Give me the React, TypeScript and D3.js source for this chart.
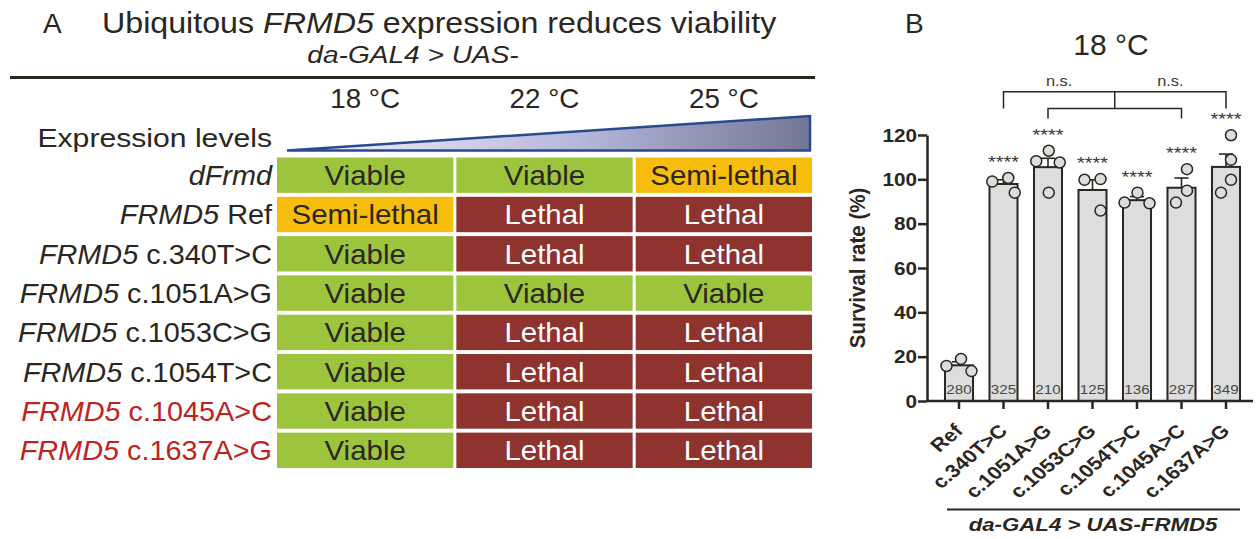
import React, { useRef, useEffect } from 'react';
import * as d3 from 'd3';

// ---- panel A : viability table ----
const temperatures = ['18 °C', '22 °C', '25 °C'];
const lineGenes = ['dFrmd', 'FRMD5', 'FRMD5', 'FRMD5', 'FRMD5', 'FRMD5', 'FRMD5', 'FRMD5'];
const lineVariants = ['', 'Ref', 'c.340T>C', 'c.1051A>G', 'c.1053C>G', 'c.1054T>C', 'c.1045A>C', 'c.1637A>G'];
const highlightedVariants = ['c.1045A>C', 'c.1637A>G'];
const outcomes18 = ['Viable', 'Semi-lethal', 'Viable', 'Viable', 'Viable', 'Viable', 'Viable', 'Viable'];
const outcomes22 = ['Viable', 'Lethal', 'Lethal', 'Viable', 'Lethal', 'Lethal', 'Lethal', 'Lethal'];
const outcomes25 = ['Semi-lethal', 'Lethal', 'Lethal', 'Viable', 'Lethal', 'Lethal', 'Lethal', 'Lethal'];

// ---- panel B : survival at 18 °C ----
const alleles = ['Ref', 'c.340T>C', 'c.1051A>G', 'c.1053C>G', 'c.1054T>C', 'c.1045A>C', 'c.1637A>G'];
const meanSurvival = [16.1, 97.9, 105.5, 95.2, 90.6, 96.2, 105.6];
const semSurvival = [1.6, 1.9, 4.0, 4.6, 1.6, 4.4, 5.8];
const replicateSurvival = [
  [19.0, 13.5, 15.8],
  [100.6, 99.0, 94.0],
  [112.9, 108.2, 107.6, 94.0],
  [100.1, 99.8, 85.9],
  [94.0, 89.2, 89.5],
  [104.6, 94.9, 89.5],
  [119.9, 108.8, 99.8, 94.0],
];
const fliesCounted = [280, 325, 210, 125, 136, 287, 349];
const significance = ['', '****', '****', '****', '****', '****', '****'];
const yTicks = [0, 20, 40, 60, 80, 100, 120];
// bracket comparisons (outer pair, inner pair) and their levels on the y axis
const outerPair = ['c.340T>C', 'c.1637A>G'];
const innerPair = ['c.1051A>G', 'c.1045A>C'];
const bracketLevels = [139.5, 132, 127.5];
const bracketLabels = ['n.s.', 'n.s.'];

const FONT = '"Liberation Sans", Arial, Helvetica, sans-serif';
const INK = '#2b2620';

const place = (x, y, k = 1, rot = 0) => `translate(${x},${y}) scale(${k},1) rotate(${rot})`;

// greedy beeswarm: each point takes the nearest free horizontal offset
const swarm = (ys, minDist) => {
  const order = ys.map((v, i) => i).sort((a, b) => ys[a] - ys[b]);
  const dx = new Array(ys.length).fill(0);
  const placed = [];
  order.forEach(i => {
    for (let s = 0; s < 60; s += 0.5) {
      const cand = [-s, s].find(o => placed.every(j => Math.hypot(o - dx[j], ys[i] - ys[j]) >= minDist));
      if (cand !== undefined) { dx[i] = cand; break; }
    }
    placed.push(i);
  });
  const shift = (d3.min(dx) + d3.max(dx)) / 2;
  return dx.map(d => d - shift);
};

const App = () => {
  const ref = useRef(null);

  useEffect(() => {
    d3.select(ref.current).select('svg').remove();
    const W = 1257, H = 539;
    const svg = d3.select(ref.current)
      .append('svg')
      .attr('width', W)
      .attr('height', H)
      .style('display', 'block')
      .style('font-family', FONT);

    svg.append('rect').attr('width', W).attr('height', H).attr('fill', '#fff');

    const text = (g, x, y, str, o: any = {}) =>
      g.append('text')
        .attr('transform', place(x, y, o.k || 1, o.rot || 0))
        .attr('text-anchor', o.anchor || 'start')
        .attr('font-size', o.size || 16)
        .attr('font-weight', o.weight || 'normal')
        .attr('font-style', o.italic ? 'italic' : 'normal')
        .attr('fill', o.fill || INK)
        .text(str);

    // =============== panel A ===============
    const A = svg.append('g');
    text(A, 43, 33, 'A', { size: 28 });
    const title = A.append('text')
      .attr('transform', place(102, 33, 1.11))
      .attr('font-size', 29).attr('fill', INK);
    title.append('tspan').text('Ubiquitous ');
    title.append('tspan').attr('font-style', 'italic').text('FRMD5');
    title.append('tspan').text(' expression reduces viability');
    text(A, 413, 63, 'da-GAL4 > UAS-', { size: 24, italic: true, anchor: 'middle', k: 1.17 });
    A.append('line').attr('x1', 10).attr('x2', 815).attr('y1', 77.5).attr('y2', 77.5)
      .attr('stroke', INK).attr('stroke-width', 3);

    const col = d3.scaleBand().domain(temperatures).range([277, 812]).paddingInner(0.017);
    const row = d3.scaleBand().domain(lineVariants).range([157.5, 468]).paddingInner(0.1);
    const outcomeFill = d3.scaleOrdinal().domain(['Viable', 'Semi-lethal', 'Lethal'])
      .range(['#9cc43d', '#f7bd0c', '#8e332e']);
    const outcomeInk = d3.scaleOrdinal().domain(['Viable', 'Semi-lethal', 'Lethal'])
      .range([INK, INK, '#ffffff']);

    temperatures.forEach(t => {
      text(A, col(t) + col.bandwidth() / 2, 108, t, { size: 27, anchor: 'middle', k: 1.03 });
    });

    // expression level wedge
    const grad = svg.append('defs').append('linearGradient').attr('id', 'expr')
      .attr('x1', 0).attr('x2', 1).attr('y1', 0).attr('y2', 0);
    grad.append('stop').attr('offset', 0).attr('stop-color', '#f6f6fc');
    grad.append('stop').attr('offset', 0.55).attr('stop-color', '#b6b8dc');
    grad.append('stop').attr('offset', 1).attr('stop-color', '#747696');
    const [c0, c1] = col.range();
    A.append('path')
      .attr('d', d3.line()([[c0 + 10, 150.5], [c1 - 2, 116], [c1 - 2, 150.5]]) + 'Z')
      .attr('fill', 'url(#expr)').attr('stroke', '#2a4a8f').attr('stroke-width', 2.5)
      .attr('stroke-linejoin', 'miter');
    text(A, 272, 147, 'Expression levels', { size: 26, anchor: 'end', k: 1.16 });

    const outcomesByTemp = [outcomes18, outcomes22, outcomes25];
    lineVariants.forEach((v, i) => {
      const cy = row(v) + row.bandwidth() / 2;
      const red = highlightedVariants.includes(v);
      const lbl = A.append('text')
        .attr('transform', place(272, cy + 10, 1.03))
        .attr('text-anchor', 'end').attr('font-size', 28)
        .attr('fill', red ? '#c0231d' : INK);
      lbl.append('tspan').attr('font-style', 'italic').text(lineGenes[i]);
      if (v) lbl.append('tspan').text(' ' + v);

      temperatures.forEach((t, j) => {
        const o = outcomesByTemp[j][i];
        A.append('rect')
          .attr('x', col(t)).attr('y', row(v))
          .attr('width', col.bandwidth()).attr('height', row.bandwidth())
          .attr('fill', outcomeFill(o));
        text(A, col(t) + col.bandwidth() / 2, cy + 10, o,
          { size: 27, anchor: 'middle', k: 1.09, fill: outcomeInk(o) });
      });
    });

    // =============== panel B ===============
    const B = svg.append('g');
    const K = 1.17;
    text(B, 905, 33, 'B', { size: 28 });
    text(B, 1111, 55, '18 °C', { size: 30, anchor: 'middle' });

    const y = d3.scaleLinear().domain([0, 120]).range([401, 135]);
    const x = d3.scaleBand().domain(alleles).range([936.75, 1248.25])
      .paddingInner(0.37).paddingOuter(0.185);
    const axisX = 927;
    const cx = a => x(a) + x.bandwidth() / 2;

    // bars
    alleles.forEach((a, i) => {
      B.append('rect')
        .attr('x', x(a)).attr('y', y(meanSurvival[i]))
        .attr('width', x.bandwidth()).attr('height', y(0) - y(meanSurvival[i]))
        .attr('fill', '#dcdddc').attr('stroke', INK).attr('stroke-width', 2);
    });

    // error bars (mean + SEM)
    alleles.forEach((a, i) => {
      const top = y(meanSurvival[i] + semSurvival[i]);
      B.append('line').attr('x1', cx(a)).attr('x2', cx(a))
        .attr('y1', y(meanSurvival[i])).attr('y2', top)
        .attr('stroke', INK).attr('stroke-width', 1.6);
      B.append('line').attr('x1', cx(a) - 7).attr('x2', cx(a) + 7)
        .attr('y1', top).attr('y2', top)
        .attr('stroke', INK).attr('stroke-width', 1.6);
    });

    // replicate points
    alleles.forEach((a, i) => {
      const ys = replicateSurvival[i].map(v => y(v));
      const offs = swarm(ys, 16);
      ys.forEach((py, j) => {
        B.append('circle').attr('cx', cx(a) + offs[j]).attr('cy', py).attr('r', 5.5)
          .attr('fill', '#dcdddc').attr('stroke', INK).attr('stroke-width', 1.5);
      });
    });

    // counts inside bars
    alleles.forEach((a, i) => {
      text(B, cx(a), 394, String(fliesCounted[i]), { size: 13, anchor: 'middle', k: K, fill: '#4a4744' });
    });

    // significance stars
    alleles.forEach((a, i) => {
      if (!significance[i]) return;
      const hi = Math.max(d3.max(replicateSurvival[i]), meanSurvival[i] + semSurvival[i]);
      text(B, cx(a), y(hi) - 10, significance[i], { size: 17, anchor: 'middle', k: K, fill: '#3a3632' });
    });

    // axes
    const yAxis = B.append('g').attr('transform', `translate(${axisX},0)`)
      .call(d3.axisLeft(y).tickValues(yTicks).tickSize(9).tickSizeOuter(0).tickPadding(3));
    yAxis.select('.domain').attr('stroke', INK).attr('stroke-width', 2.5);
    yAxis.selectAll('.tick line').attr('stroke', INK).attr('stroke-width', 2.5);
    yAxis.selectAll('.tick text').remove();
    yTicks.forEach(t => {
      text(B, axisX - 10, y(t) + 6.5, String(t), { size: 18, weight: 'bold', anchor: 'end', k: 1.15 });
    });
    text(B, 857, y(60), 'Survival rate (%)', { size: 20.5, weight: 'bold', anchor: 'middle', k: 1.12, rot: -90 })
      .attr('dy', '0.35em');

    B.append('line').attr('x1', axisX).attr('x2', 1253).attr('y1', y(0)).attr('y2', y(0))
      .attr('stroke', INK).attr('stroke-width', 2.5);
    alleles.forEach(a => {
      B.append('line').attr('x1', cx(a)).attr('x2', cx(a)).attr('y1', y(0)).attr('y2', y(0) + 8)
        .attr('stroke', INK).attr('stroke-width', 2.5);
      text(B, cx(a) + 5, y(0) + 31, a, { size: 18.5, weight: 'bold', anchor: 'end', k: K, rot: -45 });
    });

    B.append('line').attr('x1', 947).attr('x2', 1240).attr('y1', 509.5).attr('y2', 509.5)
      .attr('stroke', INK).attr('stroke-width', 2);
    text(B, 1093, 531, 'da-GAL4 > UAS-FRMD5', { size: 19, weight: 'bold', italic: true, anchor: 'middle', k: K });

    // comparison brackets
    const [lvTop, lvMid, lvLow] = bracketLevels.map(v => y(v));
    const oL = cx(outerPair[0]), oR = cx(outerPair[1]);
    const iL = cx(innerPair[0]), iR = cx(innerPair[1]);
    const mid = (iL + iR) / 2;
    const bracket = d3.path();
    bracket.moveTo(oL, lvMid); bracket.lineTo(oL, lvTop); bracket.lineTo(oR, lvTop); bracket.lineTo(oR, lvMid);
    bracket.moveTo(mid, lvTop); bracket.lineTo(mid, lvMid);
    bracket.moveTo(iL, lvLow); bracket.lineTo(iL, lvMid); bracket.lineTo(iR, lvMid); bracket.lineTo(iR, lvLow);
    B.append('path').attr('d', bracket.toString()).attr('fill', 'none')
      .attr('stroke', INK).attr('stroke-width', 1.5);
    text(B, (oL + mid) / 2, lvTop - 6, bracketLabels[0], { size: 14, anchor: 'middle', k: K, fill: '#3a3632' });
    text(B, (mid + oR) / 2, lvTop - 6, bracketLabels[1], { size: 14, anchor: 'middle', k: K, fill: '#3a3632' });
  }, []);

  return <div ref={ref} style={{ position: 'absolute', left: 0, top: 0 }} />;
};

export default App;
